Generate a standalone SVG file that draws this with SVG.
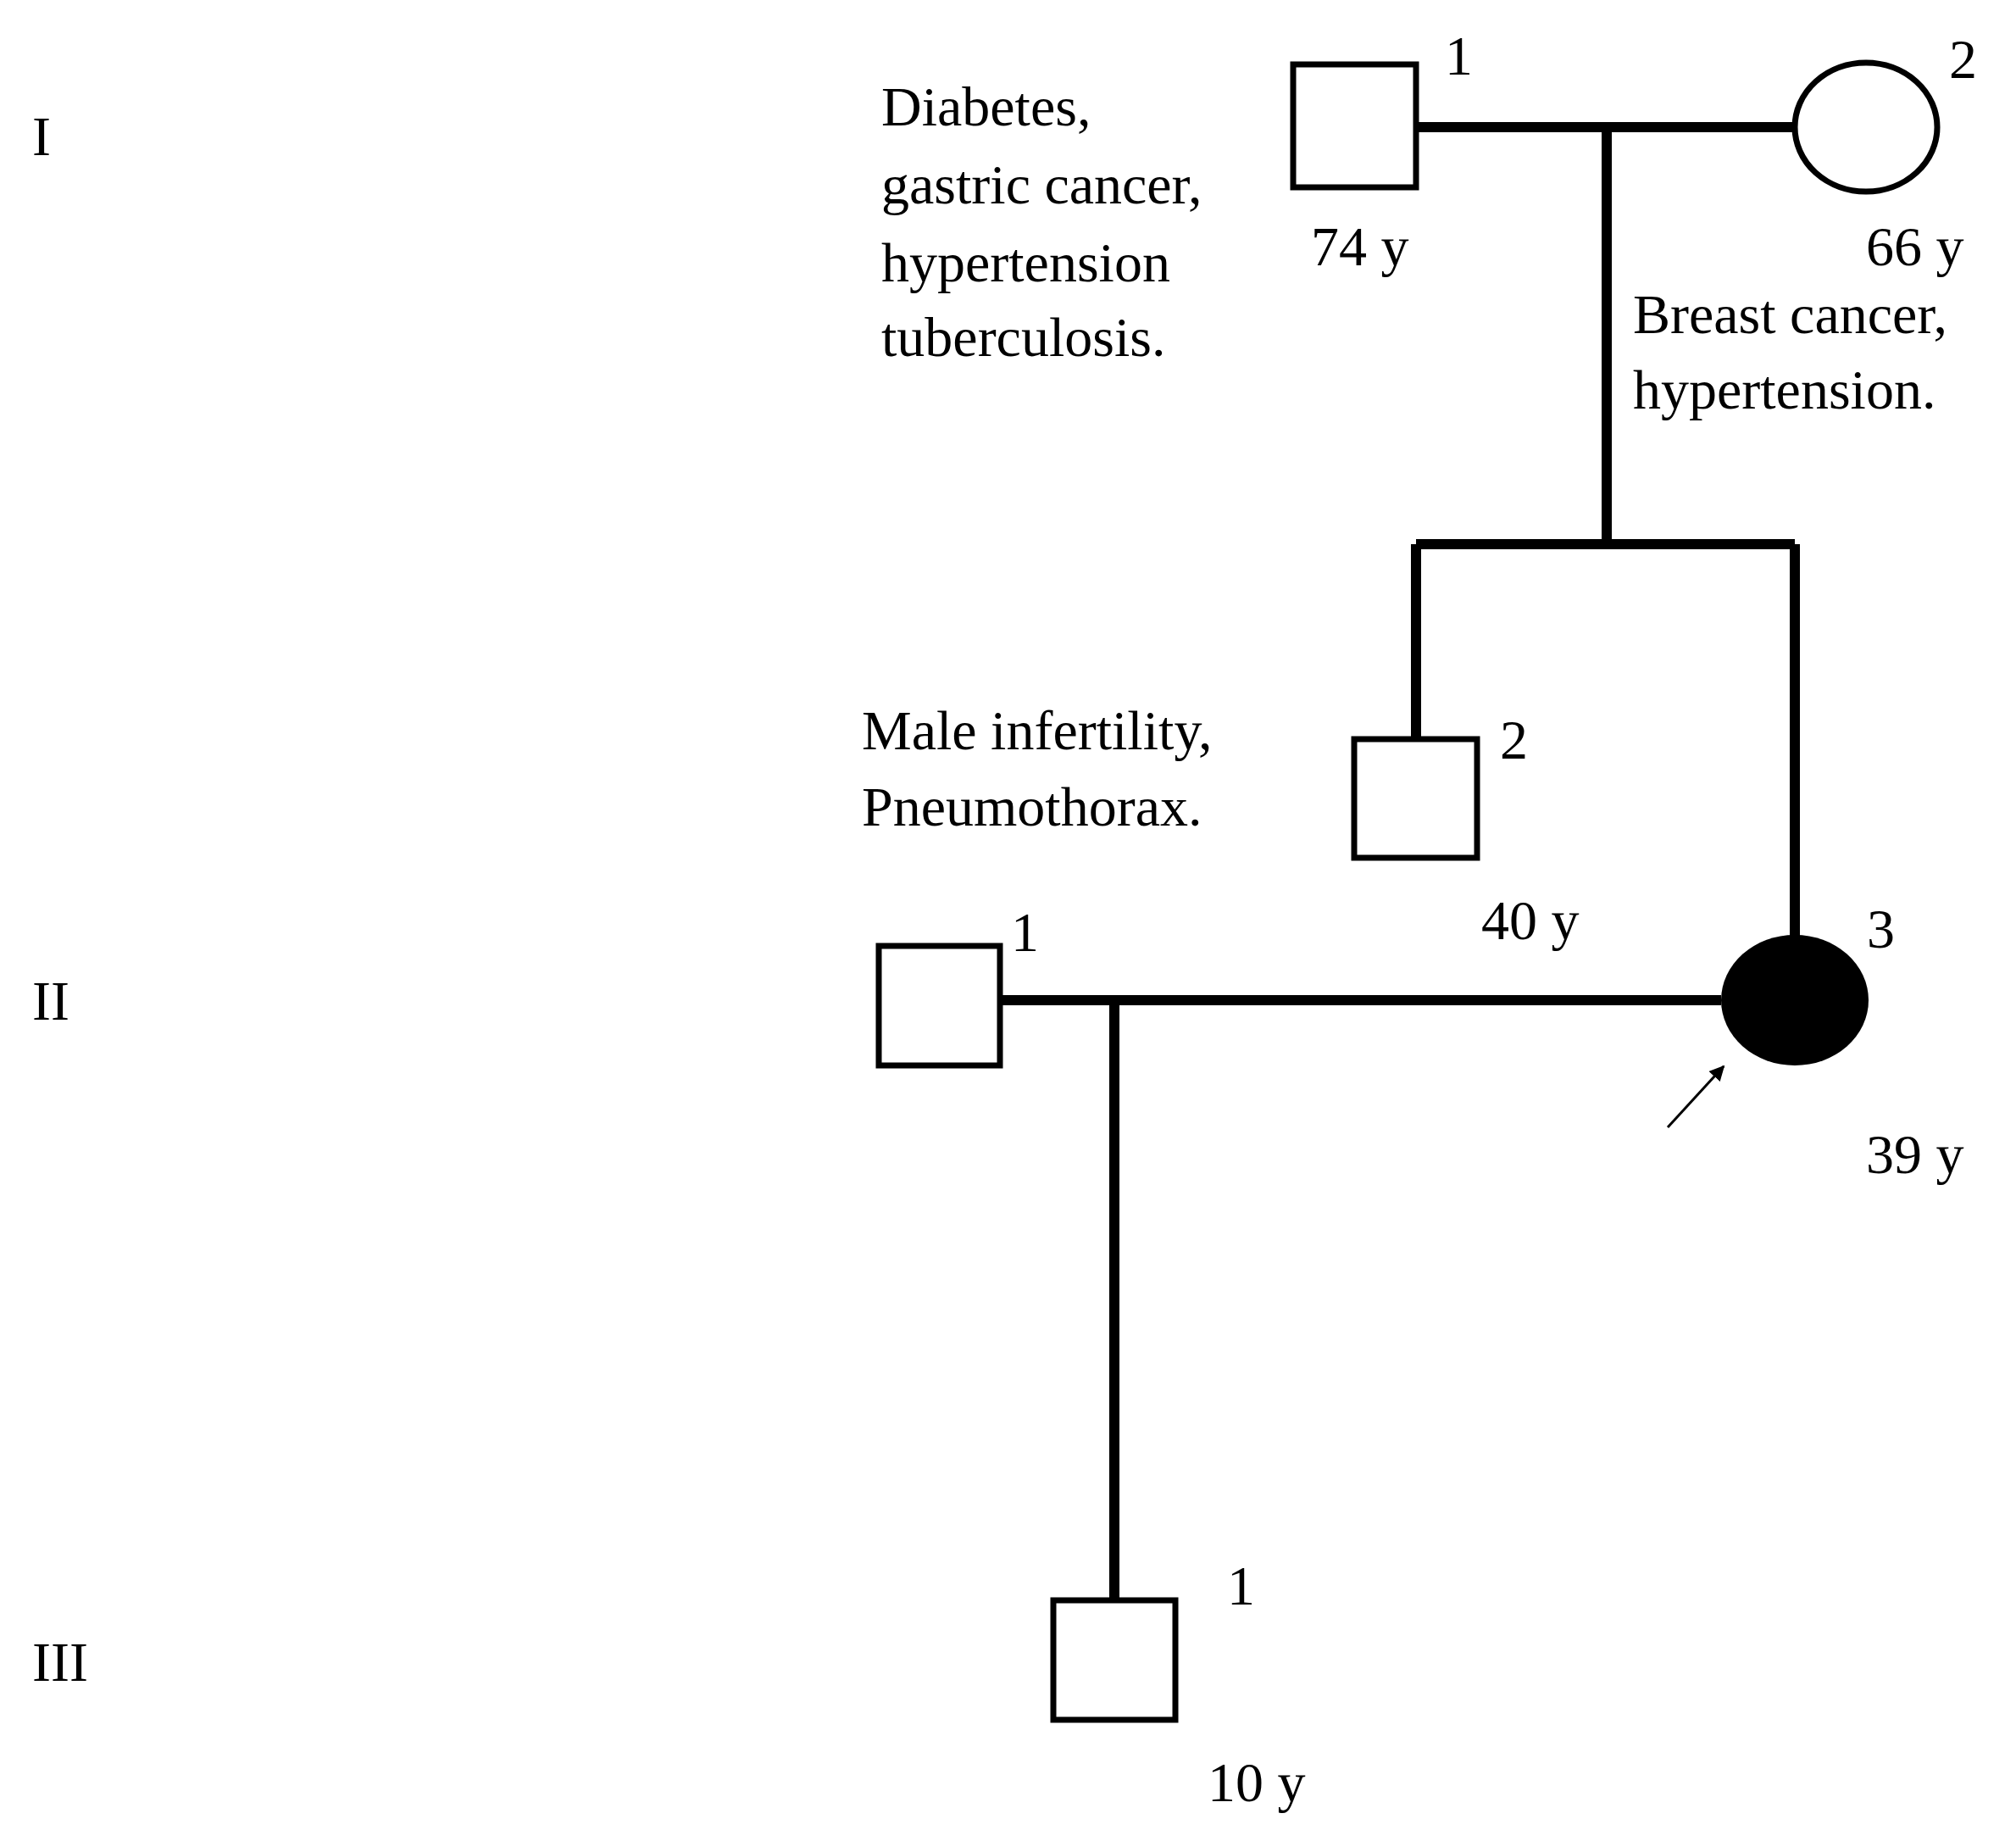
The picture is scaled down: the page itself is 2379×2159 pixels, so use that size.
<svg xmlns="http://www.w3.org/2000/svg" width="2379" height="2159" viewBox="0 0 2379 2159">
<style>
text{font-family:"Liberation Serif","Times New Roman",serif;font-size:66px;fill:#000}
.n{fill:#fff;stroke:#000;stroke-width:7}
.l{stroke:#000;stroke-width:12;fill:none}
</style>
<defs><marker id="ah" viewBox="0 0 10 10" refX="9" refY="5" markerWidth="6" markerHeight="6" orient="auto"><path d="M0,0L10,5L0,10z"/></marker></defs>
<rect width="2379" height="2159" fill="#fff"/>
<text x="38" y="183">I</text>
<text x="38" y="1203">II</text>
<text x="38" y="1983">III</text>
<g id="connectors">
<path class="l" d="M1671,150H2118M1896,150V642M1671,642H2118M1671,642V872M2118,642V1108M1180,1180H2031M1315,1180V1888"/>
<line x1="1968" y1="1330" x2="2034" y2="1258" stroke="#000" stroke-width="3" marker-end="url(#ah)"/>
</g>
<g id="I-1"><rect class="n" x="1526" y="76" width="145" height="145"/><text x="1705" y="88" font-size="58">1</text><text x="1547" y="313">74 y</text>
<text x="1040" y="148">Diabetes,</text><text x="1040" y="240">gastric cancer,</text><text x="1040" y="332">hypertension</text><text x="1040" y="420">tuberculosis.</text></g>
<g id="I-2"><ellipse class="n" cx="2202" cy="150" rx="84" ry="76"/><text x="2300" y="92" font-size="58">2</text><text x="2202" y="313">66 y</text>
<text x="1927" y="393">Breast cancer,</text><text x="1927" y="482">hypertension.</text></g>
<g id="II-2"><rect class="n" x="1598" y="872" width="145" height="140"/><text x="1770" y="895" font-size="58">2</text><text x="1748" y="1108">40 y</text>
<text x="1017" y="884">Male infertility,</text><text x="1017" y="974">Pneumothorax.</text></g>
<g id="II-3"><ellipse cx="2118" cy="1180" rx="87" ry="77" fill="#000"/><text x="2203" y="1118" font-size="58">3</text><text x="2202" y="1384">39 y</text></g>
<g id="II-1"><rect class="n" x="1037" y="1116" width="143" height="141"/><text x="1193" y="1122" font-size="58">1</text></g>
<g id="III-1"><rect class="n" x="1243" y="1888" width="144" height="141"/><text x="1448" y="1893" font-size="58">1</text><text x="1425" y="2125">10 y</text></g>
</svg>
